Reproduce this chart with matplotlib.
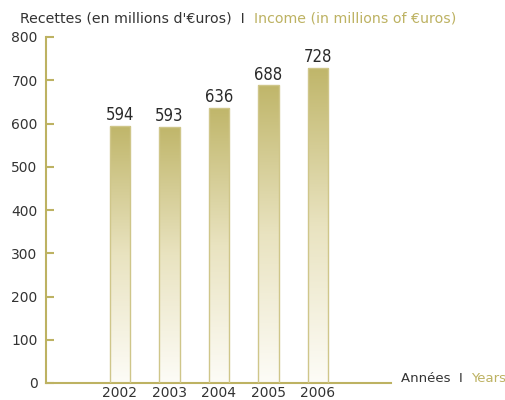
import numpy as np
import matplotlib.pyplot as plt
from matplotlib.colors import LinearSegmentedColormap

years = ["2002", "2003", "2004", "2005", "2006"]
income = [594, 593, 636, 688, 728]
y_ticks = [0, 100, 200, 300, 400, 500, 600, 700, 800]

gold = "#bdb262"
dark = "#333333"
plt.rcParams['font.family'] = ['DejaVu Sans']

fig = plt.figure(figsize=(5.06, 4.0), dpi=100)
ax = fig.add_axes([46 / 506, 17 / 400, 345 / 506, 346 / 400])

x = np.arange(len(years))
bars = ax.bar(x, income, width=0.42, color="none", edgecolor="#cfc68a", linewidth=1.0, zorder=3)

# vertical gradient: gold at top -> white at bottom
cmap = LinearSegmentedColormap.from_list("g", ["#fdfcf7", "#e9e3c0", "#c0b66a"])
grad = np.linspace(0, 1, 256).reshape(-1, 1)
for b in bars:
    x0, w, h = b.get_x(), b.get_width(), b.get_height()
    im = ax.imshow(grad, cmap=cmap, origin="lower", aspect="auto",
                   extent=[x0, x0 + w, 0, h], zorder=2)
    im.set_clip_path(b)
    ax.text(x0 + w / 2, h + 4, str(int(h)), ha="center", va="bottom",
            fontsize=12, color="#2a2a2a", fontstretch="condensed", family=["DejaVu Sans"])

ax.set_xlim(-1.495, 5.475)
ax.set_ylim(0, 800)
ax.set_yticks(y_ticks)
ax.set_xticks(x)
ax.set_xticklabels(years)
ax.tick_params(axis="y", direction="in", length=6, width=1.5, color=gold,
               labelsize=10, labelcolor=dark, pad=6)
ax.tick_params(axis="x", length=0, labelsize=10, labelcolor=dark, pad=2)
for s in ["top", "right"]:
    ax.spines[s].set_visible(False)
for s in ["left", "bottom"]:
    ax.spines[s].set_color(gold)
    ax.spines[s].set_linewidth(1.5)

# titles in two colours
fig.canvas.draw()
r = fig.canvas.get_renderer()
t1 = fig.text(20 / 506, 1 - 18 / 400, "Recettes (en millions d'€uros)  I  ", fontsize=10.2,
              color=dark, va="center", ha="left")
bb = t1.get_window_extent(renderer=r)
fig.text(bb.x1 / fig.bbox.width, 1 - 18 / 400, "Income (in millions of €uros)", fontsize=10.2,
         color=gold, va="center", ha="left")

t2 = fig.text(401 / 506, 1 - 379 / 400, "Années  I  ", fontsize=9.5, color=dark, va="center", ha="left")
bb = t2.get_window_extent(renderer=r)
fig.text(bb.x1 / fig.bbox.width, 1 - 379 / 400, "Years", fontsize=9.5, color=gold, va="center", ha="left")

fig.savefig("out.png", dpi=100)
